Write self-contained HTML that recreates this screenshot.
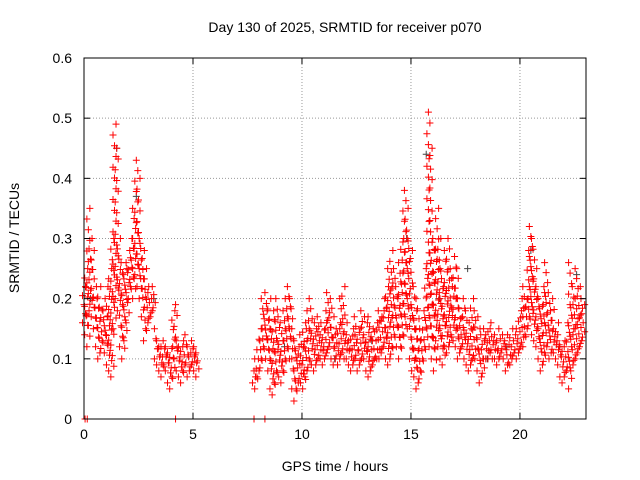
<!DOCTYPE html>
<html><head><meta charset="utf-8">
<style>
body{margin:0;background:#fff;}
svg{display:block;font-family:"Liberation Sans",sans-serif;}
</style></head>
<body>
<svg id="chart" width="640" height="480" viewBox="0 0 640 480" xmlns="http://www.w3.org/2000/svg">
<rect width="640" height="480" fill="#fff"/>
<text x="345" y="32" font-size="14" text-anchor="middle">Day 130 of 2025, SRMTID for receiver p070</text>
<text transform="translate(19,238) rotate(-90)" font-size="14" text-anchor="middle">SRMTID / TECUs</text>
<text x="335" y="471" font-size="14" text-anchor="middle">GPS time / hours</text>
<g id="grid"></g><g id="marks"></g>
<rect x="84" y="58" width="502" height="361" fill="none" stroke="#000" stroke-width="1"/>
<g id="ticks"></g>
</svg>
<script>
const xTicks=[0,5,10,15,20];
const yTicks=[0,0.1,0.2,0.3,0.4,0.5,0.6];
const yTickLabels=["0","0.1","0.2","0.3","0.4","0.5","0.6"];
const times=[0,0.1,0.2,0.3,0.4,0.5,0.6,0.7,0.8,0.9,1,1.1,1.2,1.3,1.4,1.5,1.6,1.7,1.8,1.9,2,2.1,2.2,2.3,2.4,2.5,2.6,2.7,2.8,2.9,3,3.1,3.2,3.3,3.4,3.5,3.6,3.7,3.8,3.9,4,4.1,4.2,4.3,4.4,4.5,4.6,4.7,4.8,4.9,5,5.1,5.2,
7.8,7.9,8,8.1,8.2,8.3,8.4,8.5,8.6,8.7,8.8,8.9,9,9.1,9.2,9.3,9.4,9.5,9.6,9.7,9.8,9.9,10,10.1,10.2,10.3,10.4,10.5,10.6,10.7,10.8,10.9,11,11.1,11.2,11.3,11.4,11.5,11.6,11.7,11.8,11.9,12,12.1,12.2,12.3,12.4,12.5,12.6,12.7,12.8,12.9,13,13.1,13.2,13.3,13.4,13.5,13.6,13.7,13.8,13.9,14,14.1,14.2,14.3,14.4,14.5,14.6,14.7,14.8,14.9,15,15.1,15.2,15.3,15.4,15.5,15.6,15.7,15.8,15.9,16,16.1,16.2,16.3,16.4,16.5,16.6,16.7,16.8,16.9,17,17.1,17.2,17.3,17.4,17.5,17.6,17.7,17.8,17.9,18,18.1,18.2,18.3,18.4,18.5,18.6,18.7,18.8,18.9,19,19.1,19.2,19.3,19.4,19.5,19.6,19.7,19.8,19.9,20,20.1,20.2,20.3,20.4,20.5,20.6,20.7,20.8,20.9,21,21.1,21.2,21.3,21.4,21.5,21.6,21.7,21.8,21.9,22,22.1,22.2,22.3,22.4,22.5,22.6,22.7,22.8,22.9];
const upper=[0.22,0.25,0.35,0.3,0.28,0.22,0.2,0.22,0.18,0.2,0.17,0.22,0.25,0.3,0.49,0.45,0.3,0.26,0.24,0.25,0.26,0.28,0.3,0.35,0.43,0.4,0.3,0.28,0.25,0.22,0.21,0.2,0.22,0.15,0.13,0.12,0.12,0.13,0.12,0.11,0.12,0.18,0.19,0.13,0.12,0.13,0.12,0.14,0.12,0.11,0.13,0.12,0.11,
0.08,0.1,0.13,0.15,0.2,0.21,0.18,0.2,
0.15,0.18,0.2,0.17,0.16,0.13,0.18,0.2,0.22,0.2,
0.15,0.13,0.12,0.14,0.12,0.16,0.15,0.18,0.2,0.16,
0.15,0.17,0.16,0.14,0.15,0.18,0.21,0.2,0.17,0.15,
0.14,0.16,0.2,0.22,0.16,0.14,0.13,0.15,0.17,0.14,
0.15,0.18,0.17,0.14,0.16,0.17,0.15,0.13,0.16,0.18,
0.17,0.18,0.2,0.22,0.25,0.28,0.25,0.22,0.2,0.26,
0.3,0.38,0.35,0.3,0.28,0.22,0.18,0.2,0.15,0.13,
0.18,0.25,0.51,0.45,0.3,0.28,0.35,0.3,0.25,0.22,
0.28,0.3,0.25,0.22,0.27,0.25,0.2,0.17,0.2,0.18,
0.16,0.15,0.2,0.18,0.17,0.15,0.14,0.13,0.15,0.14,
0.16,0.15,0.13,0.14,0.13,0.15,0.14,0.13,0.12,0.14,
0.15,0.13,0.14,0.15,0.18,0.2,0.22,0.2,0.28,0.32,
0.3,0.25,0.22,0.2,0.19,0.22,0.26,0.21,0.18,0.2,
0.15,0.16,0.14,0.12,0.13,0.12,0.16,0.26,0.22,0.19,
0.25,0.22,0.2,0.19];
const lower=[0.16,0.14,0.12,0.18,0.17,0.15,0.12,0.1,0.11,0.13,0.11,0.09,0.08,0.07,0.15,0.2,0.18,0.12,0.1,0.13,0.16,0.2,0.22,0.2,0.24,0.22,0.2,0.17,0.13,0.15,0.16,0.17,0.18,0.1,0.09,0.08,0.07,0.09,0.08,0.06,0.05,0.07,0.1,0.08,0.07,0.06,0.08,0.09,0.07,0.08,0.09,0.08,0.07,
0.06,0.05,0.07,0.08,0.1,0.12,0.1,0.08,
0.05,0.04,0.06,0.08,0.07,0.06,0.08,0.1,0.12,0.1,
0.05,0.03,0.05,0.06,0.06,0.05,0.07,0.08,0.1,0.09,
0.08,0.09,0.1,0.1,0.09,0.1,0.11,0.12,0.1,0.09,
0.1,0.09,0.1,0.11,0.1,0.1,0.09,0.08,0.09,0.1,
0.08,0.09,0.1,0.1,0.08,0.07,0.08,0.09,0.1,0.1,
0.1,0.11,0.12,0.1,0.09,0.1,0.12,0.14,0.12,0.1,
0.12,0.14,0.17,0.15,0.1,0.08,0.07,0.05,0.06,0.08,
0.1,0.12,0.15,0.12,0.1,0.08,0.13,0.12,0.1,0.09,
0.12,0.11,0.12,0.14,0.13,0.12,0.1,0.11,0.12,0.1,
0.09,0.08,0.09,0.1,0.1,0.08,0.06,0.07,0.1,0.1,
0.1,0.11,0.1,0.1,0.09,0.1,0.11,0.1,0.08,0.09,
0.09,0.1,0.11,0.1,0.11,0.12,0.12,0.14,0.15,0.17,
0.14,0.13,0.12,0.1,0.08,0.09,0.11,0.12,0.1,0.11,
0.11,0.1,0.09,0.07,0.06,0.07,0.08,0.05,0.08,0.09,
0.1,0.11,0.12,0.13];
const zeroTimes=[0.05,0.15,4.2,7.8,8.3];
const grayTimes=[0.3,1.5,2.4,3.2,9.2,11.5,13.2,14.8,15.7,16.3,17.6,18.5,19.4,20.5,21.8,22.6];
const grayValues=[0.2,0.45,0.37,0.2,0.12,0.1,0.13,0.3,0.44,0.2,0.25,0.1,0.12,0.28,0.12,0.24];

const X0=84,X1=586,Y0=419,Y1=58,XMAX=23.03,YMAX=0.6;
const xs=t=>X0+(t/XMAX)*(X1-X0);
const ys=v=>Y0-(v/YMAX)*(Y0-Y1);
const NS="http://www.w3.org/2000/svg";
const grid=document.getElementById('grid'),marks=document.getElementById('marks'),ticks=document.getElementById('ticks');
function mk(tag,attrs,parent){const e=document.createElementNS(NS,tag);for(const k in attrs)e.setAttribute(k,attrs[k]);parent.appendChild(e);return e;}
xTicks.forEach(t=>{const x=xs(t);
 if(t>0){const g=mk('line',{x1:x,y1:Y0,x2:x,y2:Y1,stroke:'#999','stroke-width':1,'stroke-dasharray':'1,2'},grid);
 
 }
 mk('line',{x1:x,y1:Y0,x2:x,y2:Y0-6,stroke:'#000'},ticks);mk('line',{x1:x,y1:Y1,x2:x,y2:Y1+6,stroke:'#000'},ticks);
 const l=mk('text',{x:x,y:Y0+20,'font-size':14,'text-anchor':'middle'},ticks);l.textContent=String(t);
 
 });
yTicks.forEach((v,i)=>{const y=ys(v);
 if(v>0&&v<YMAX){const g=mk('line',{x1:X0,y1:y,x2:X1,y2:y,stroke:'#999','stroke-width':1,'stroke-dasharray':'1,2'},grid);
 
 }
 mk('line',{x1:X0,y1:y,x2:X0+6,y2:y,stroke:'#000'},ticks);mk('line',{x1:X1,y1:y,x2:X1-6,y2:y,stroke:'#000'},ticks);
 const l=mk('text',{x:X0-12,y:y+5,'font-size':14,'text-anchor':'end'},ticks);l.textContent=yTickLabels[i];
 
 });
function plus(x,y,c,name){const p=mk('path',{d:`M${x-3.5},${y}h7M${x},${y-3.5}v7`,stroke:c,'stroke-width':1,fill:'none'},marks);
 
 }
grayTimes.forEach((t,i)=>plus(xs(t),ys(grayValues[i]),'#444','gray-point'));
times.forEach((t,i)=>{const a=ys(lower[i]),b=ys(upper[i]),x=xs(t);
 const n=Math.max(1,Math.ceil((a-b)/11));
 for(let k=0;k<=n;k++){const y=a+(b-a)*k/n;const dx=(k%3===0?-1.5:(k%3===1?1.5:0));plus(x+dx,y,'#f00','srmtid-point');}});
zeroTimes.forEach(t=>plus(xs(t),ys(0),'#f00','zero-point'));
</script>
</body></html>
